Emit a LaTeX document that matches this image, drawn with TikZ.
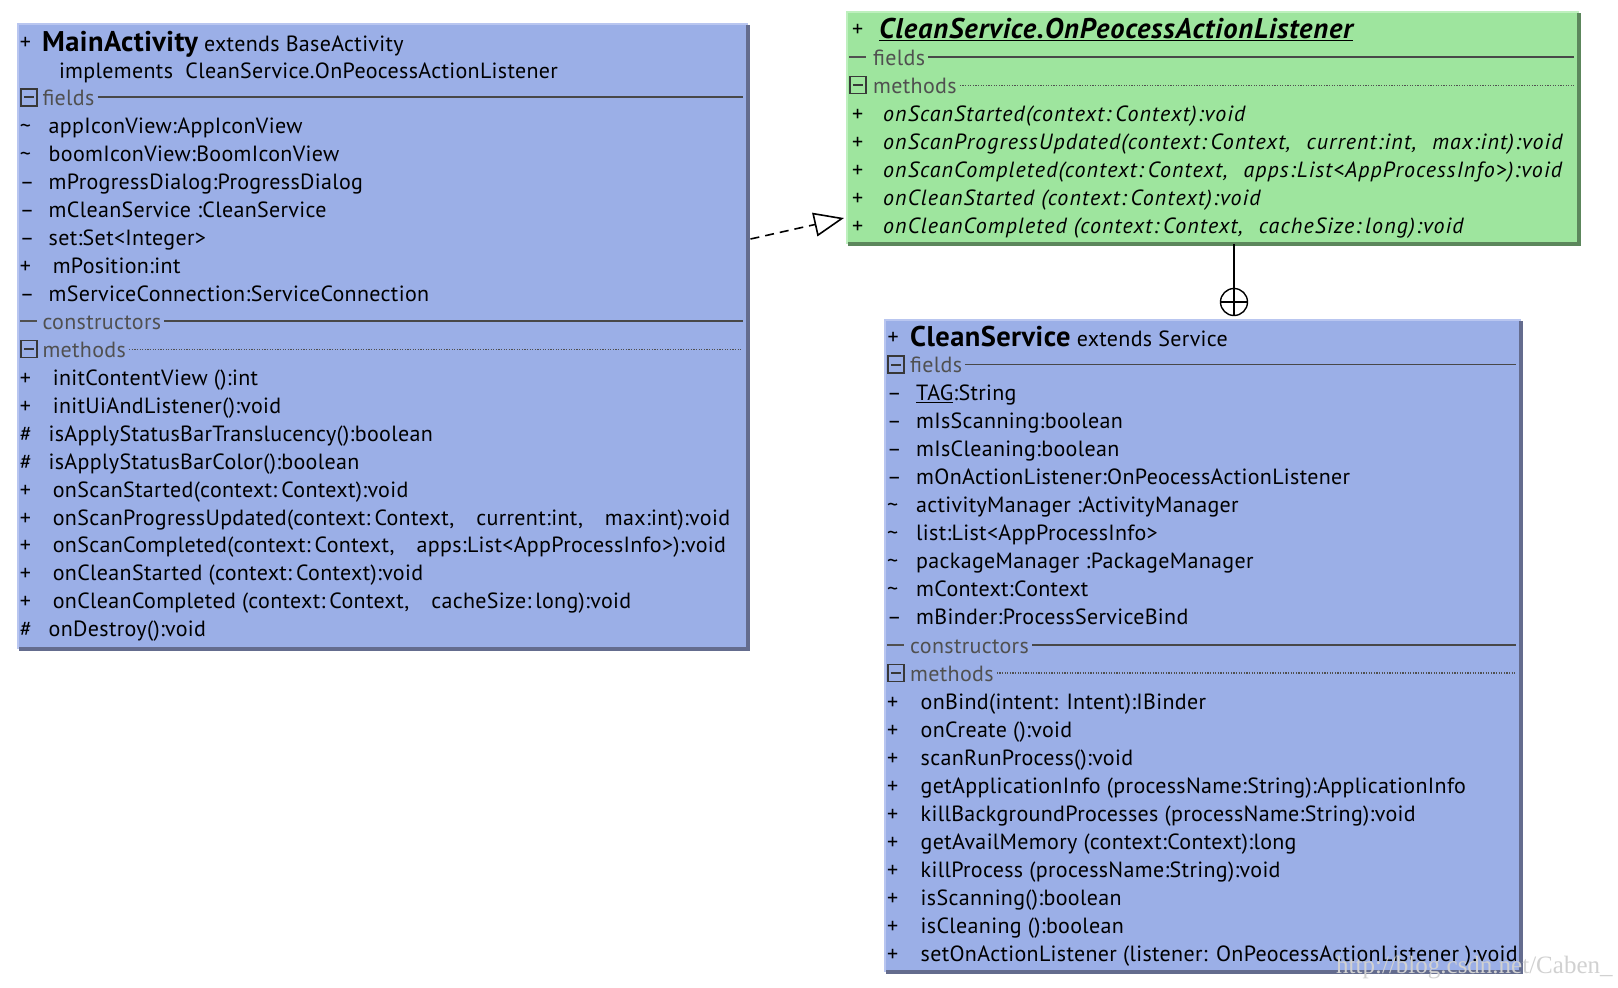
\documentclass[tikz,border=0pt]{standalone}
\usepackage{fontspec}
\setmainfont{PT Sans}[LetterSpace=1.5]
\newfontfamily\wmfont{Liberation Serif}
\usetikzlibrary{arrows.meta,calc}
\definecolor{umlblue}{RGB}{155,175,231}
\definecolor{umlgreen}{RGB}{158,229,158}
\definecolor{blueedge}{RGB}{185,198,240}
\definecolor{greenedge}{RGB}{190,240,190}
\definecolor{blueshadow}{RGB}{100,108,142}
\definecolor{greenshadow}{RGB}{92,135,92}
\definecolor{hdrgray}{RGB}{80,80,80}
\newcommand{\umlitem}[6]{\node[rowtxt] (#1s) at (#2,#4) {#5};\node[rowtxt] (#1t) at (#3,#4) {#6};}
\newcommand{\umlhdr}[5]{\node[minusbox] (#1b) at (#2,#4) {};\node[hdrtxt] (#1t) at (#3,#4) {#5};}
\newcommand{\umldashhdr}[5]{\node[dashmark] (#1b) at (#2,#4) {};\node[hdrtxt] (#1t) at (#3,#4) {#5};}
\newcommand{\tl}{\textasciitilde}
\newcommand{\cm}{,\hspace{22pt}}
\newcommand{\cmi}{,\hspace{16pt}}
\newcommand{\cl}{:\hspace{4pt}}
\newcommand{\itsp}{\itshape\addfontfeatures{LetterSpace=5}}
\begin{document}
\begin{tikzpicture}[x=1pt,y=-1pt,
  rowtxt/.style={anchor=west,inner sep=0pt,text height=18pt,text depth=2pt,font=\fontsize{22}{26}\selectfont},
  hdrtxt/.style={rowtxt,text=hdrgray},
  titletxt/.style={rowtxt,text height=22pt},
  bluebox/.style={anchor=north west,fill=umlblue,draw=blueedge,line width=1.5pt,inner sep=0pt},
  greenbox/.style={anchor=north west,fill=umlgreen,draw=greenedge,line width=1.5pt,inner sep=0pt},
  blueshadowline/.style={draw=blueshadow,line width=4pt},
  greenshadowline/.style={draw=greenshadow,line width=4pt},
  minusbox/.style={anchor=west,draw=hdrgray!70!black,line width=1.6pt,minimum width=16pt,minimum height=17pt,inner sep=0pt,
    path picture={\draw[line width=2pt,hdrgray!70!black] ([xshift=3pt]path picture bounding box.west) -- ([xshift=-3pt]path picture bounding box.east);}},
  dashmark/.style={anchor=west,minimum width=17pt,minimum height=2pt,inner sep=0pt,fill=hdrgray},
  secline/.style={draw=hdrgray!90!black,line width=1.8pt},
  dotline/.style={draw=hdrgray,line width=1.2pt,dash pattern=on 1.2pt off 1.4pt},
  realize/.style={draw=black,line width=1.6pt,dash pattern=on 9pt off 6pt,-{Triangle[open,length=30pt,width=24pt,line width=1.6pt]}},
]
\useasboundingbox (0,0) rectangle (1618,988);
\fill[white] (0,0) rectangle (1618,988);

% ---------------- MainActivity -----------------
\node[bluebox,minimum width=729pt,minimum height=624pt] (main) at (17,23) {};
\draw[blueshadowline] ([yshift=-2pt]main.north east) -- (main.south east) -- ([xshift=2pt]main.south west);
\node[rowtxt] (m0s) at (19.6,41.3) {+};
\node[titletxt] (m0t) at (42,41.3) {{\fontsize{28.5}{30}\selectfont\bfseries MainActivity}\ extends\ BaseActivity};
\node[rowtxt] (m1t) at (58.8,70.3) {implements\ \ CleanService.OnPeocessActionListener};
\umlhdr{mf}{20}{42.3}{97.3}{fields}
\draw[secline] ([xshift=3pt]mft.east) -- ([xshift=-5pt]mft.east -| main.east);
\umlitem{mf1}{19.6}{48.5}{125.2}{\tl}{appIconView:AppIconView}
\umlitem{mf2}{19.6}{48.5}{153.2}{\tl}{boomIconView:BoomIconView}
\umlitem{mf3}{19.6}{48.5}{181.2}{–}{mProgressDialog:ProgressDialog}
\umlitem{mf4}{19.6}{48.5}{209.2}{–}{mCleanService :CleanService}
\umlitem{mf5}{19.6}{48.5}{237.2}{–}{set:Set<Integer>}
\umlitem{mf6}{19.6}{52.6}{265.1}{+}{mPosition:int}
\umlitem{mf7}{19.6}{48.5}{293.1}{–}{mServiceConnection:ServiceConnection}
\umldashhdr{mc}{20}{42.3}{321.1}{constructors}
\draw[secline] ([xshift=3pt]mct.east) -- ([xshift=-5pt]mct.east -| main.east);
\umlhdr{mm}{20}{42.3}{349.1}{methods}
\draw[dotline] ([xshift=3pt]mmt.east) -- ([xshift=-5pt]mmt.east -| main.east);
\umlitem{mm1}{19.6}{52.6}{377.1}{+}{initContentView ():int}
\umlitem{mm2}{19.6}{52.6}{405.0}{+}{initUiAndListener():void}
\umlitem{mm3}{19.6}{48.5}{433.0}{\#}{isApplyStatusBarTranslucency():boolean}
\umlitem{mm4}{19.6}{48.5}{461.0}{\#}{isApplyStatusBarColor():boolean}
\umlitem{mm5}{19.6}{52.6}{489.0}{+}{onScanStarted(context\cl Context):void}
\umlitem{mm6}{19.6}{52.6}{517.0}{+}{onScanProgressUpdated(context\cl Context\cm current:int\cm max:int):void}
\umlitem{mm7}{19.6}{52.6}{544.9}{+}{onScanCompleted(context\cl Context\cm apps:List<AppProcessInfo>):void}
\umlitem{mm8}{19.6}{52.6}{572.9}{+}{onCleanStarted (context\cl Context):void}
\umlitem{mm9}{19.6}{52.6}{600.9}{+}{onCleanCompleted (context\cl Context\cm cacheSize\cl long):void}
\umlitem{mm10}{19.6}{48.5}{628.9}{\#}{onDestroy():void}

% ---------------- Listener interface -----------------
\node[greenbox,minimum width=731pt,minimum height=231pt] (iface) at (846,11) {};
\draw[greenshadowline] ([yshift=-2pt]iface.north east) -- (iface.south east) -- ([xshift=2pt]iface.south west);
\node[rowtxt] (i0s) at (852,28.9) {+};
\node[titletxt] (i0t) at (879,28.9) {{\fontsize{28.5}{30}\selectfont\bfseries\itshape\addfontfeatures{LetterSpace=3}\underline{CleanService.OnPeocessActionListener}}};
\umldashhdr{if}{849}{873}{57.0}{fields}
\draw[secline] ([xshift=3pt]ift.east) -- ([xshift=-5pt]ift.east -| iface.east);
\umlhdr{im}{849}{873}{85.1}{methods}
\draw[dotline] ([xshift=3pt]imt.east) -- ([xshift=-5pt]imt.east -| iface.east);
\umlitem{im1}{852}{883}{113.2}{+}{\itsp onScanStarted(context\cl Context):void}
\umlitem{im2}{852}{883}{141.3}{+}{\itsp onScanProgressUpdated(context\cl Context\cmi current:int\cmi max:int):void}
\umlitem{im3}{852}{883}{169.4}{+}{\itsp onScanCompleted(context\cl Context\cmi apps:List<AppProcessInfo>):void}
\umlitem{im4}{852}{883}{197.5}{+}{\itsp onCleanStarted (context\cl Context):void}
\umlitem{im5}{852}{883}{225.6}{+}{\itsp onCleanCompleted (context\cl Context\cmi cacheSize\cl long):void}

% ---------------- CleanService -----------------
\node[bluebox,minimum width=635pt,minimum height=651pt] (svc) at (884,319) {};
\draw[blueshadowline] ([yshift=-2pt]svc.north east) -- (svc.south east) -- ([xshift=2pt]svc.south west);
\node[rowtxt] (s0s) at (887.5,336.4) {+};
\node[titletxt] (s0t) at (910,336.4) {{\fontsize{28.5}{30}\selectfont\bfseries CleanService}\ extends\ Service};
\umlhdr{sf}{887}{910}{364.5}{fields}
\draw[secline] ([xshift=3pt]sft.east) -- ([xshift=-5pt]sft.east -| svc.east);
\umlitem{sf1}{887}{916}{392.5}{–}{\underline{TAG}:String}
\umlitem{sf2}{887}{916}{420.6}{–}{mIsScanning:boolean}
\umlitem{sf3}{887}{916}{448.6}{–}{mIsCleaning:boolean}
\umlitem{sf4}{887}{916}{476.7}{–}{mOnActionListener:OnPeocessActionListener}
\umlitem{sf5}{887}{916}{504.7}{\tl}{activityManager :ActivityManager}
\umlitem{sf6}{887}{916}{532.8}{\tl}{list:List<AppProcessInfo>}
\umlitem{sf7}{887}{916}{560.8}{\tl}{packageManager :PackageManager}
\umlitem{sf8}{887}{916}{588.9}{\tl}{mContext:Context}
\umlitem{sf9}{887}{916}{616.9}{–}{mBinder:ProcessServiceBind}
\umldashhdr{sc}{887}{910}{645.0}{constructors}
\draw[secline] ([xshift=3pt]sct.east) -- ([xshift=-5pt]sct.east -| svc.east);
\umlhdr{sm}{887}{910}{673.0}{methods}
\draw[dotline] ([xshift=3pt]smt.east) -- ([xshift=-5pt]smt.east -| svc.east);
\umlitem{sm1}{887}{920.5}{701.1}{+}{onBind(intent: Intent):IBinder}
\umlitem{sm2}{887}{920.5}{729.1}{+}{onCreate ():void}
\umlitem{sm3}{887}{920.5}{757.2}{+}{scanRunProcess():void}
\umlitem{sm4}{887}{920.5}{785.2}{+}{getApplicationInfo (processName:String):ApplicationInfo}
\umlitem{sm5}{887}{920.5}{813.3}{+}{killBackgroundProcesses (processName:String):void}
\umlitem{sm6}{887}{920.5}{841.3}{+}{getAvailMemory (context:Context):long}
\umlitem{sm7}{887}{920.5}{869.4}{+}{killProcess (processName:String):void}
\umlitem{sm8}{887}{920.5}{897.4}{+}{isScanning():boolean}
\umlitem{sm9}{887}{920.5}{925.5}{+}{isCleaning ():boolean}
\umlitem{sm10}{887}{920.5}{953.5}{+}{setOnActionListener (listener: OnPeocessActionListener ):void}

% ---------------- connectors -----------------
\coordinate (rstart) at ($(main.north east)+(3,216)$);
\coordinate (rend) at ($(iface.north west)+(-2,207)$);
\draw[realize] (rstart) -- (rend);

\node[draw=black,line width=1.4pt,circle,minimum size=27pt,inner sep=0pt,
  path picture={\draw[line width=1.4pt] (path picture bounding box.north) -- (path picture bounding box.south)
                 (path picture bounding box.west) -- (path picture bounding box.east);}] (own) at (1234,302) {};
\draw[line width=1.4pt] (own.north) -- (own.north |- iface.south);

\node[anchor=west,inner sep=0pt,text=black!18,font=\wmfont\fontsize{25}{28}\selectfont] (wm) at (1336,968) {http://blog.csdn.net/Caben\_};
\end{tikzpicture}
\end{document}
